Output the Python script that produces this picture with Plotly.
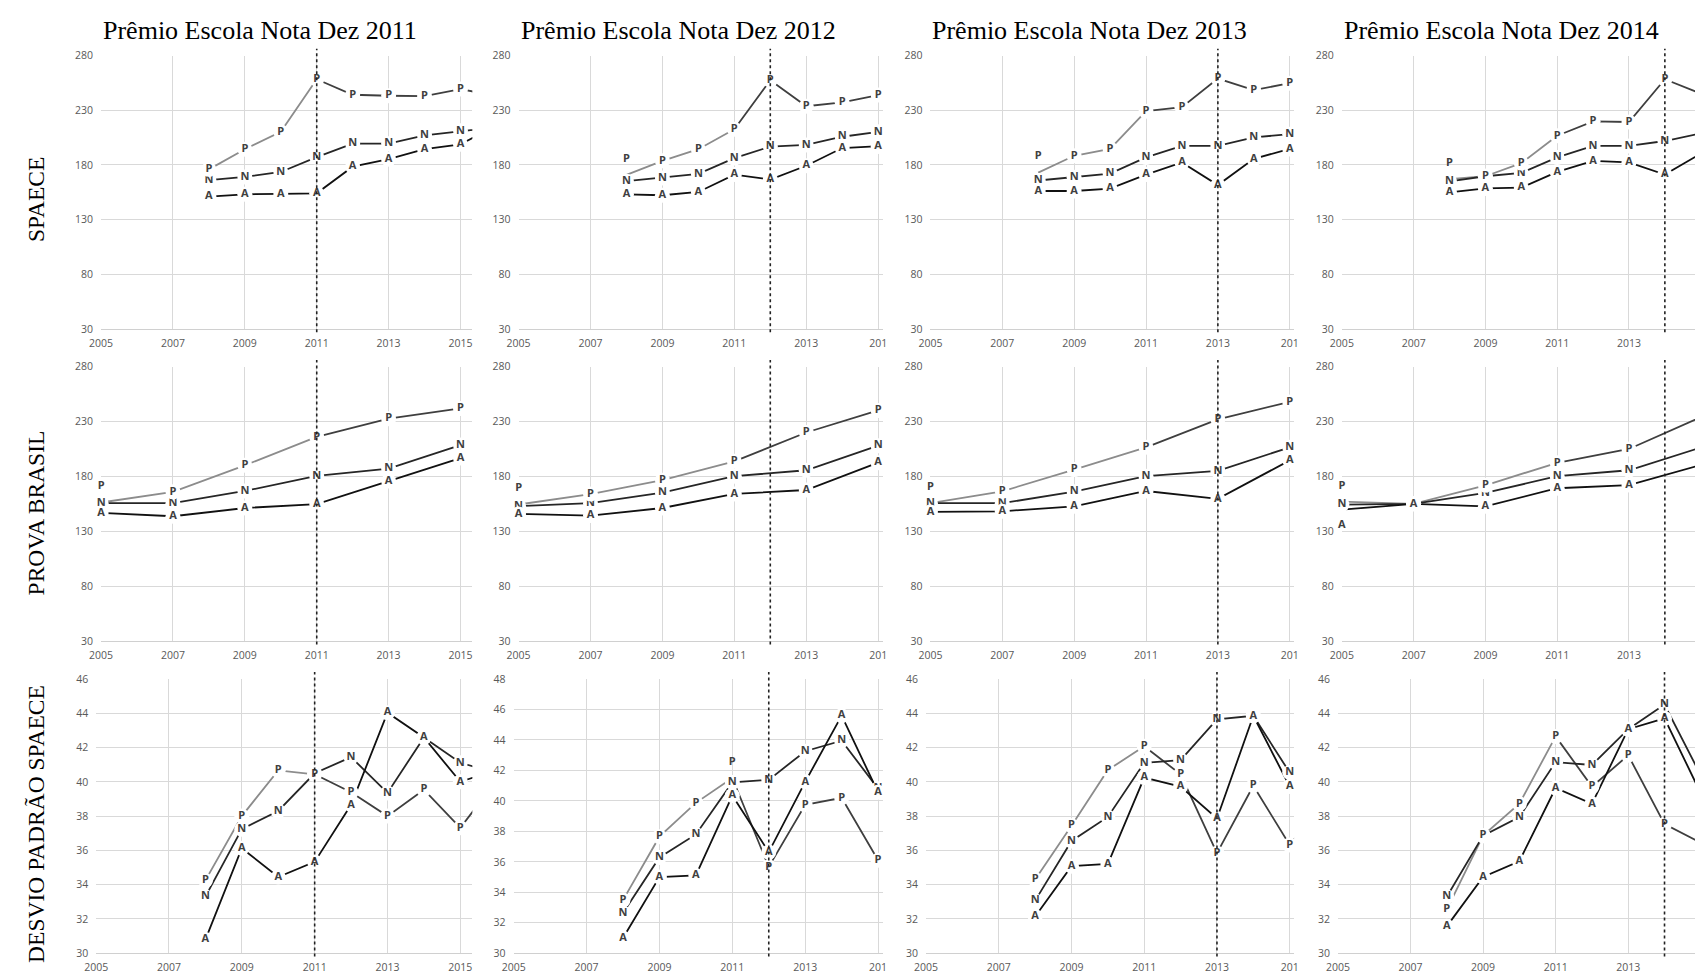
import plotly.graph_objects as go

# ---------------- data ----------------
PRIZE_YEARS = [2011, 2012, 2013, 2014]
TITLES = ["Prêmio Escola Nota Dez 2011", "Prêmio Escola Nota Dez 2012",
          "Prêmio Escola Nota Dez 2013", "Prêmio Escola Nota Dez 2014"]
ROW_LABELS = ["SPAECE", "PROVA BRASIL", "DESVIO PADRÃO SPAECE"]

X_TICKS = [2005, 2007, 2009, 2011, 2013, 2015]
X_TICK_TEXT_FULL = ["2005", "2007", "2009", "2011", "2013", "2015"]
X_TICK_TEXT_CUT = ["2005", "2007", "2009", "2011", "2013", "201"]
Y_TICKS_SCORE = [30, 80, 130, 180, 230, 280]
Y_TICKS_SD = [30, 32, 34, 36, 38, 40, 42, 44, 46]
Y_TICKS_SD48 = [30, 32, 34, 36, 38, 40, 42, 44, 46, 48]

SPAECE_YEARS = [2008, 2009, 2010, 2011, 2012, 2013, 2014, 2015, 2016]
PB_YEARS = [2005, 2007, 2009, 2011, 2013, 2015]
SD_YEARS = [2008, 2009, 2010, 2011, 2012, 2013, 2014, 2015, 2016]

# SPAECE
spaece_2011_P = [176.0, 194.4, 210.3, 258.4, 244.2, 243.3, 243.0, 249.4, 242.9]
spaece_2011_N = [166.1, 169.1, 173.6, 187.2, 199.5, 199.5, 207.0, 211.2, 214.5]
spaece_2011_A = [151.1, 153.2, 153.5, 154.1, 178.4, 185.3, 194.4, 198.9, 216.0]
spaece_2012_P = [171.0, 183.8, 194.4, 212.7, 257.5, 233.7, 237.3, 243.9, 243.5]
spaece_2012_N = [165.2, 168.2, 171.8, 186.3, 196.8, 198.3, 205.8, 210.3, 211.0]
spaece_2012_A = [153.2, 152.3, 155.3, 171.2, 166.7, 179.3, 195.5, 197.0, 199.0]
spaece_2013_P = [173.0, 188.4, 194.7, 229.2, 232.8, 259.0, 248.4, 254.8, None]
spaece_2013_N = [165.8, 168.8, 172.1, 186.9, 197.4, 197.4, 205.2, 208.2, None]
spaece_2013_A = [156.2, 156.2, 158.3, 171.2, 182.3, 161.6, 185.6, 194.7, None]
spaece_2014_P = [167.0, 169.7, 181.7, 206.7, 219.9, 219.3, 258.4, 245.2, None]
spaece_2014_N = [165.0, 169.7, 172.7, 186.9, 197.4, 197.4, 201.9, 208.8, None]
spaece_2014_A = [155.0, 158.6, 159.2, 173.6, 183.8, 182.3, 171.2, 190.3, None]

# Prova Brasil
pb_2011_P = [156.3, 166.0, 190.2, 216.2, 232.7, 242.0]
pb_2011_N = [155.7, 155.7, 166.8, 180.6, 187.2, 208.7]
pb_2011_A = [146.8, 143.8, 151.3, 154.9, 175.8, 196.8]
pb_2012_P = [154.5, 164.0, 176.7, 193.8, 220.1, 240.2]
pb_2012_N = [153.0, 155.7, 165.3, 180.3, 185.7, 208.1]
pb_2012_A = [145.9, 144.4, 151.3, 164.1, 167.7, 192.6]
pb_2013_P = [155.7, 166.5, 186.3, 206.6, 232.1, 248.0]
pb_2013_N = [155.7, 155.7, 166.2, 180.3, 185.1, 206.6]
pb_2013_A = [147.7, 148.3, 152.8, 166.8, 159.6, 194.7]
pb_2014_P = [157.1, 155.1, 172.0, 192.5, 205.1, 234.0]
pb_2014_N = [154.4, 155.1, 165.0, 180.3, 185.7, 206.4]
pb_2014_A = [149.8, 155.1, 152.8, 169.3, 172.2, 190.5]

# Desvio padrão SPAECE
sd_2011_P = [34.25, 38.0, 40.67, 40.44, 39.39, 38.0, 39.54, 37.32, 40.1]
sd_2011_N = [33.3, 37.24, 38.3, 40.5, 41.44, 39.35, 42.59, 41.11, 40.5]
sd_2011_A = [30.8, 36.13, 34.45, 35.33, 38.66, 44.03, 42.59, 40.0, 40.7]
sd_2012_P = [33.49, 37.65, 39.87, 41.5, 35.67, 39.74, 40.2, 36.1, 37.5]
sd_2012_N = [32.65, 36.29, 37.8, 41.21, 41.38, 43.26, 43.95, 40.8, 41.2]
sd_2012_A = [31.0, 35.0, 35.11, 40.35, 36.64, 41.25, 45.59, 40.56, 41.2]
sd_2013_P = [34.31, 37.44, 40.69, 42.07, 40.44, 35.84, 39.77, 36.32, 39.0]
sd_2013_N = [33.07, 36.55, 37.95, 41.11, 41.27, 43.64, 43.85, 40.54, 40.8]
sd_2013_A = [32.15, 35.08, 35.21, 40.25, 39.72, 37.86, 43.85, 39.73, 40.2]
sd_2014_P = [32.55, 36.86, 38.72, 42.65, 39.72, 41.55, 37.53, 36.45, None]
sd_2014_N = [33.3, 36.86, 37.95, 41.15, 40.98, 43.07, 44.51, 40.38, None]
sd_2014_A = [31.57, 34.45, 35.37, 39.64, 38.72, 43.07, 43.70, 39.33, None]

ROWS = [
    (SPAECE_YEARS, [(spaece_2011_P, spaece_2011_N, spaece_2011_A),
                    (spaece_2012_P, spaece_2012_N, spaece_2012_A),
                    (spaece_2013_P, spaece_2013_N, spaece_2013_A),
                    (spaece_2014_P, spaece_2014_N, spaece_2014_A)]),
    (PB_YEARS, [(pb_2011_P, pb_2011_N, pb_2011_A),
                (pb_2012_P, pb_2012_N, pb_2012_A),
                (pb_2013_P, pb_2013_N, pb_2013_A),
                (pb_2014_P, pb_2014_N, pb_2014_A)]),
    (SD_YEARS, [(sd_2011_P, sd_2011_N, sd_2011_A),
                (sd_2012_P, sd_2012_N, sd_2012_A),
                (sd_2013_P, sd_2013_N, sd_2013_A),
                (sd_2014_P, sd_2014_N, sd_2014_A)]),
]

# label placement overrides (row, col, series, year) -> textposition
LABEL_POS = {
    (0, 1, "P", 2008): "top center",
    (0, 2, "P", 2008): "top center",
    (0, 3, "P", 2008): "top center",
    (1, 0, "P", 2005): "top center",
    (1, 1, "P", 2005): "top center",
    (1, 2, "P", 2005): "top center",
    (1, 3, "P", 2005): "top center",
    (1, 3, "A", 2005): "bottom center",
    (2, 1, "P", 2011): "top center",
}

# ---------------- layout geometry ----------------
W, H = 1700, 979
ROW_PX = [(49.3, 326.7), (365.0, 643.3), (681.7, 960.0)]
COL_LEFT = [[90, 511.7, 927.7, 1343.3], [90, 511.7, 927.7, 1343.3], [85, 506.7, 923.3, 1339.3]]
COL_RIGHT = [465, 880, 1295, 1700]
X_MAX = [2015.33, 2015.14, 2015.12, 2014.84]

GRID = "#d9d9d9"
TICK_FONT = dict(family="Open Sans, Liberation Sans, Arial", size=10.5, color="#595959")
LETTER_FONT = dict(family="Open Sans, Liberation Sans, Arial", size=11, color="#404040", weight=700)
SERIES_COLORS = {"N": "#262626", "A": "#111111"}
P_EARLY = "#8c8c8c"
P_LATE = "#3f3f3f"
LW = 1.8

fig = go.Figure()
layout = dict(width=W, height=H, margin=dict(l=0, r=0, t=0, b=0),
              paper_bgcolor="white", plot_bgcolor="white", showlegend=False)
shapes, annotations = [], []

for r, (years, panels) in enumerate(ROWS):
    for c, (P, N, A) in enumerate(panels):
        k = r * 4 + c + 1
        xs = "" if k == 1 else str(k)
        xa, ya = "x" + xs, "y" + xs
        top, bot = ROW_PX[r]
        x0 = COL_LEFT[r][c] / W
        x1 = COL_RIGHT[c] / W
        if r < 2:
            yr, yt = [30, 280], Y_TICKS_SCORE
        else:
            yt = Y_TICKS_SD48 if c == 1 else Y_TICKS_SD
            yr = [30, yt[-1]]
        layout["xaxis" + xs] = dict(
            domain=[x0, min(x1, 1.0)], range=[2005, X_MAX[c]], anchor=ya,
            tickmode="array", tickvals=X_TICKS,
            ticktext=X_TICK_TEXT_FULL if c == 0 else X_TICK_TEXT_CUT,
            showgrid=True, gridcolor=GRID, gridwidth=1, zeroline=False,
            showline=True, linecolor="#d0d0d0", linewidth=1, ticks="",
            tickfont=TICK_FONT, ticklabelstandoff=4, fixedrange=True)
        layout["yaxis" + xs] = dict(
            domain=[1 - bot / H, 1 - top / H], range=yr, anchor=xa,
            tickmode="array", tickvals=yt,
            showgrid=True, gridcolor=GRID, gridwidth=1, zeroline=False,
            showline=False, ticks="", tickfont=TICK_FONT,
            ticklabelstandoff=7, fixedrange=True)

        # lines first (clipped to the plot area)
        early_x = [x for x in years if x <= 2011]
        early_y = [v for x, v in zip(years, P) if x <= 2011]
        late_x = [x for x in years if x >= 2011]
        late_y = [v for x, v in zip(years, P) if x >= 2011]
        fig.add_trace(go.Scatter(x=early_x, y=early_y, mode="lines", xaxis=xa, yaxis=ya,
                                 line=dict(color=P_EARLY, width=LW), hoverinfo="skip"))
        fig.add_trace(go.Scatter(x=late_x, y=late_y, mode="lines", xaxis=xa, yaxis=ya,
                                 line=dict(color=P_LATE, width=LW), hoverinfo="skip"))
        for name, vals in (("N", N), ("A", A)):
            fig.add_trace(go.Scatter(x=years, y=vals, mode="lines", xaxis=xa, yaxis=ya,
                                     line=dict(color=SERIES_COLORS[name], width=LW),
                                     hoverinfo="skip"))
        # letter markers for points inside the visible x range (not clipped)
        for name, vals in (("N", N), ("P", P), ("A", A)):
            vis = [(x, v) for x, v in zip(years, vals) if x <= X_MAX[c] and v is not None]
            vx = [x for x, _ in vis]
            vy = [v for _, v in vis]
            pos = [LABEL_POS.get((r, c, name, x), "middle center") for x in vx]
            mcol = ["white" if p == "middle center" else "rgba(255,255,255,0)" for p in pos]
            fig.add_trace(go.Scatter(
                x=vx, y=vy, mode="markers+text", xaxis=xa, yaxis=ya,
                text=[name] * len(vx), textposition=pos, textfont=LETTER_FONT,
                marker=dict(size=15, color=mcol, line=dict(width=0)),
                cliponaxis=False, hoverinfo="skip"))

        # dotted vertical line at prize year
        shapes.append(dict(type="line", xref=xa, yref=ya + " domain",
                           x0=PRIZE_YEARS[c], x1=PRIZE_YEARS[c], y0=-0.012, y1=1.025,
                           line=dict(color="#222222", width=1.6, dash="dot"), layer="above"))

# titles
for c, t in enumerate(TITLES):
    annotations.append(dict(text=t, x=COL_LEFT[0][c] / W, y=1 - 24 / H, xref="paper", yref="paper",
                            xanchor="left", yanchor="middle", showarrow=False,
                            font=dict(family="Liberation Serif, Times New Roman, serif", size=26, color="black")))
# row labels
ROW_LABEL_Y = [195, 513, 829]
for lbl, yc in zip(ROW_LABELS, ROW_LABEL_Y):
    annotations.append(dict(text=lbl, x=24 / W, y=1 - yc / H, xref="paper", yref="paper",
                            xanchor="center", yanchor="middle", textangle=-90, showarrow=False,
                            font=dict(family="Liberation Serif, Times New Roman, serif", size=23.5, color="black")))

layout["shapes"] = shapes
layout["annotations"] = annotations
fig.update_layout(**layout)
fig.write_html("out.html")
